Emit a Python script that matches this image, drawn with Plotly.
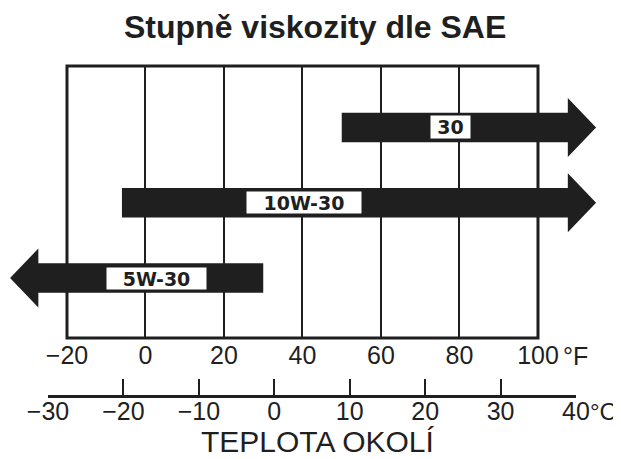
import plotly.graph_objects as go

# ---------------- data ----------------
grades = ["30", "10W-30", "5W-30"]
low_f = [50, -6, None]      # lower limit in °F (None = open-ended to the left)
high_f = [None, None, 30]   # upper limit in °F (None = open-ended to the right)
rows = [2, 1, 0]
f_ticks = [-20, 0, 20, 40, 60, 80, 100]
c_ticks = [-30, -20, -10, 0, 10, 20, 30, 40]
title_text = "Stupně viskozity dle SAE"
x_title = "TEPLOTA OKOLÍ"

# ---------------- layout constants ----------------
OFF = 8                      # default page margin around the figure
W, H = 621 - OFF, 459 - OFF
F_RANGE = [-35.03, 121.15]
Y_RANGE = [-0.797, 2.817]
OPEN_RIGHT = 114.8
OPEN_LEFT = -34.5
HEAD_LEN = 7.2
BODY_HALF = 0.196
HEAD_HALF = 0.392
INK = "#1f1f1f"
label_pos = [77.7, 40.4, 2.7]
label_w = [39, 114, 99]
label_h = [22, 21, 21]
SANS = "Liberation Sans, Arial, sans-serif"

def px_y(p):
    return 1 - (p - OFF) / H

def px_x(p):
    return (p - OFF) / W

fig = go.Figure()

for g, lo, hi, r in zip(grades, low_f, high_f, rows):
    b, h = BODY_HALF, HEAD_HALF
    if hi is None:
        tip = OPEN_RIGHT
        base = tip - HEAD_LEN
        xs = [lo, base, base, tip, base, base, lo, lo]
    else:
        tip = OPEN_LEFT
        base = tip + HEAD_LEN
        xs = [hi, base, base, tip, base, base, hi, hi]
    ys = [r + b, r + b, r + h, r, r - h, r - b, r - b, r + b]
    fig.add_trace(go.Scatter(x=xs, y=ys, mode="lines", fill="toself",
                             fillcolor=INK, line=dict(color=INK, width=0),
                             showlegend=False, hoverinfo="skip", name=g))

# invisible trace to carry the Celsius axis
fig.add_trace(go.Scatter(x=c_ticks, y=[None] * len(c_ticks), xaxis="x2", yaxis="y",
                         mode="markers", showlegend=False, hoverinfo="skip"))

annotations = []
for g, lx, r, w, hh in zip(grades, label_pos, rows, label_w, label_h):
    annotations.append(dict(x=lx, y=r, xref="x", yref="y", text=g, showarrow=False,
                            bgcolor="white", width=w, height=hh, borderpad=0,
                            font=dict(family="DejaVu Sans", size=19, color=INK, weight="bold")))

annotations += [
    dict(x=px_x(314.5), y=px_y(27), xref="paper", yref="paper", text=title_text,
         showarrow=False, xanchor="center", yanchor="middle",
         font=dict(family=SANS, size=32, color=INK, weight="bold")),
    dict(x=px_x(561), y=px_y(356), xref="paper", yref="paper", text="°F",
         showarrow=False, xanchor="left", yanchor="middle",
         font=dict(family=SANS, size=25, color=INK)),
    dict(x=px_x(588), y=px_y(411), xref="paper", yref="paper", text="°C",
         showarrow=False, xanchor="left", yanchor="middle",
         font=dict(family=SANS, size=24, color=INK)),
    dict(x=px_x(318), y=0, xref="paper", yref="paper", text=x_title,
         showarrow=False, xanchor="center", yanchor="bottom", borderpad=0,
         font=dict(family=SANS, size=30, color=INK)),
]

fig.update_layout(
    template="none",
    width=W, height=H, margin=dict(l=0, r=0, t=0, b=0, pad=0, autoexpand=False),
    paper_bgcolor="white", plot_bgcolor="rgba(0,0,0,0)",
    showlegend=False,
    xaxis=dict(range=F_RANGE, domain=[0, 1], tickmode="array", tickvals=f_ticks,
               showgrid=True, gridcolor=INK, gridwidth=2, zeroline=False, automargin=False,
               showline=False, ticks="", tickfont=dict(family=SANS, size=25, color=INK),
               fixedrange=True),
    xaxis2=dict(range=[c_ticks[0], c_ticks[-1]], domain=[px_x(48), px_x(576)],
                anchor="free", position=px_y(396), side="bottom", automargin=False,
                tickmode="array", tickvals=c_ticks, showgrid=False, zeroline=False,
                showline=True, linecolor=INK, linewidth=2.5,
                ticks="inside", ticklen=16, tickwidth=2, tickcolor=INK,
                ticklabelstandoff=-8,
                tickfont=dict(family=SANS, size=25, color=INK), fixedrange=True),
    yaxis=dict(range=Y_RANGE, domain=[px_y(338), px_y(66)], showgrid=False, automargin=False,
               zeroline=False, showticklabels=False, showline=False, fixedrange=True),
    shapes=[dict(type="rect", xref="x", yref="y domain", x0=f_ticks[0], x1=f_ticks[-1],
                 y0=0, y1=1, line=dict(color=INK, width=3), layer="below")],
    annotations=annotations,
)

fig.write_html("out.html")
